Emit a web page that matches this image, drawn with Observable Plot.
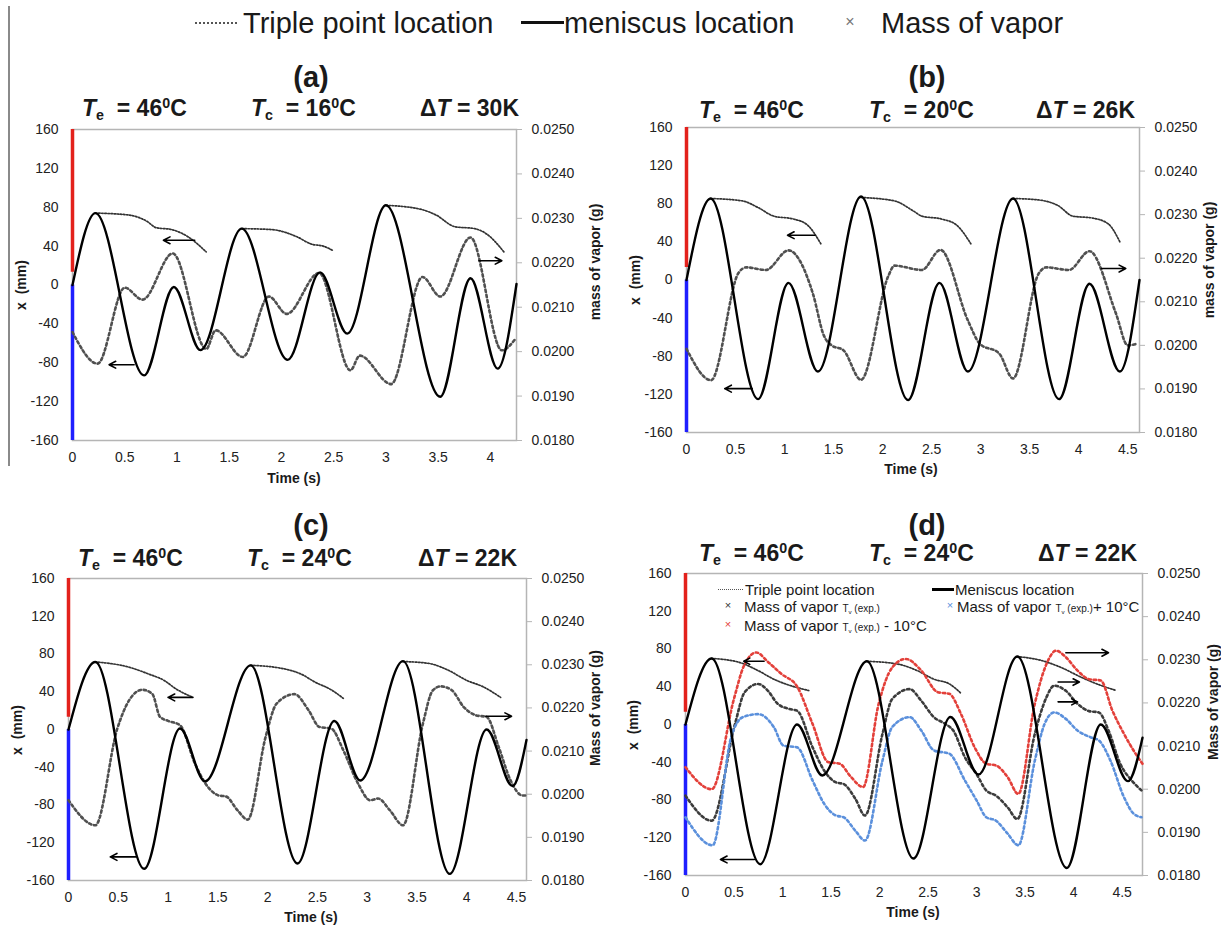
<!DOCTYPE html>
<html><head><meta charset="utf-8">
<script src="https://cdn.jsdelivr.net/npm/d3@7"></script>
<script src="https://cdn.jsdelivr.net/npm/@observablehq/plot@0.6"></script>
<style>
body{margin:0;background:#fff;font-family:"Liberation Sans",Arial,sans-serif;color:#1a1a1a}
#fig{position:relative;width:1221px;height:925px;overflow:hidden;background:#fff}
.abs{position:absolute;white-space:nowrap;line-height:1}
.ttl{font-weight:bold;font-size:29px;transform:translate(-50%,-50%)}
.hdr{font-weight:bold;font-size:23px;transform:translateY(-50%)}
.hdr sub,.lg sub{font-size:0.62em;vertical-align:baseline;position:relative;top:0.3em}
.hdr sup{font-size:0.62em;vertical-align:baseline;position:relative;top:-0.55em}
.ax{font-weight:bold;font-size:14px;transform:translate(-50%,-50%)}
.rot{transform:translate(-50%,-50%) rotate(-90deg)}
.big{font-size:29px;transform:translateY(-50%)}
.lg{font-size:15px;transform:translateY(-50%)}
.sm{font-size:10px}
.mk{transform:translate(-50%,-50%)}
svg{position:absolute}
</style></head><body><div id="fig"></div>
<script>
// ---------- data ----------
const yTicks = [-160,-120,-80,-40,0,40,80,120,160];
const massTicks = [0.018,0.019,0.020,0.021,0.022,0.023,0.024,0.025];
const timeTicksA = [0,0.5,1,1.5,2,2.5,3,3.5,4];
const timeTicksB = [0,0.5,1,1.5,2,2.5,3,3.5,4,4.5];
const panelLabels = ["(a)","(b)","(c)","(d)"];
const tempEvap = ["46","46","46","46"];
const tempCond = ["16","20","24","24"];
const deltaT = ["30","26","22","22"];
const massTitles = ["mass of vapor (g)","mass of vapor (g)","Mass of vapor (g)","Mass of vapor (g)"];
const evapBar = {t:0, from:13, to:160};
const condBar = {t:0, from:-160, to:0};

// meniscus location x (mm) : [time s, x mm]
const meniscusA = [[0,0],[0.22,74],[0.685,-93],[0.97,-2],[1.225,-67],[1.62,58],[2.06,-77],[2.37,13],[2.63,-50],[3.0,82],[3.52,-115],[3.81,7],[4.07,-86],[4.25,1]];
const meniscusB = [[0,0],[0.246,85.5],[0.73,-125],[1.04,-3],[1.34,-96],[1.78,87.6],[2.26,-126],[2.58,-3],[2.87,-96],[3.33,85.5],[3.80,-125],[4.11,-4],[4.42,-96],[4.62,0]];
const meniscusC = [[0,0],[0.27,71.6],[0.76,-147.6],[1.12,1],[1.37,-55],[1.83,68],[2.30,-142],[2.67,9],[2.93,-54],[3.36,72.4],[3.83,-153],[4.2,0],[4.46,-60],[4.6,-11]];
const meniscusD = [[0,0],[0.27,70],[0.77,-148],[1.15,0],[1.41,-54],[1.87,67],[2.35,-142],[2.73,8],[3.02,-53],[3.42,72],[3.93,-152],[4.28,0],[4.56,-60],[4.71,-14]];

// triple point location x (mm), segments
const tripleA = [
  [[0.22,74],[0.54,72],[0.72,65],[0.8,59],[0.95,57],[1.1,50],[1.28,34]],
  [[1.62,58],[1.91,57],[2.14,50],[2.29,42],[2.4,40],[2.5,35]],
  [[3.0,82],[3.33,78],[3.48,72],[3.66,60],[3.85,58],[3.97,52],[4.13,34]]];
const tripleB = [
  [[0.246,85.5],[0.57,83],[0.73,76],[0.89,67],[1.09,64],[1.23,58],[1.37,38]],
  [[1.78,86.6],[2.12,83],[2.32,72],[2.4,67],[2.6,64],[2.75,58],[2.9,38]],
  [[3.33,85.5],[3.59,84],[3.79,78],[3.94,67],[4.14,65],[4.3,59],[4.42,40]]];
const tripleC = [
  [[0.27,71.6],[0.61,66],[0.8,59],[0.96,52],[1.08,43],[1.25,34]],
  [[1.83,68],[2.13,65],[2.33,59],[2.48,50],[2.64,42],[2.76,33]],
  [[3.36,72],[3.62,70],[3.81,63],[4.0,52],[4.17,45],[4.34,34]]];
const tripleD = [
  [[0.27,70],[0.55,66],[0.75,57],[0.91,48],[1.03,43],[1.27,36]],
  [[1.87,67],[2.19,64],[2.39,57],[2.56,48],[2.72,43],[2.84,33]],
  [[3.42,72],[3.68,67.5],[3.88,60],[4.08,50],[4.24,43],[4.44,36]]];

// mass of vapor (g) : [time s, mass g]
const massA = [[0,0.02044],[0.24,0.01973],[0.5,0.02144],[0.67,0.02117],[0.96,0.02221],[1.28,0.02006],[1.37,0.02048],[1.63,0.01988],[1.88,0.02124],[2.05,0.02085],[2.36,0.02177],[2.66,0.01958],[2.75,0.01991],[3.05,0.01927],[3.35,0.02168],[3.52,0.02124],[3.81,0.02257],[4.11,0.02003],[4.24,0.02029]];
const massB = [[0,0.01992],[0.25,0.0192],[0.53,0.02166],[0.61,0.02179],[0.81,0.02173],[1.04,0.02218],[1.29,0.02118],[1.40,0.02023],[1.48,0.0200],[1.6,0.01989],[1.78,0.01921],[2.06,0.0216],[2.12,0.02183],[2.4,0.02173],[2.59,0.02219],[2.87,0.02057],[2.99,0.02004],[3.19,0.01981],[3.33,0.01924],[3.59,0.02164],[3.67,0.02179],[3.9,0.02173],[4.11,0.02216],[4.38,0.02073],[4.5,0.0200],[4.6,0.02004]];
const massC = [[0,0.01986],[0.27,0.01928],[0.49,0.02152],[0.61,0.02218],[0.74,0.02242],[0.84,0.02233],[0.92,0.02179],[1.0,0.0217],[1.12,0.0216],[1.27,0.02071],[1.39,0.0202],[1.51,0.01997],[1.58,0.01995],[1.7,0.01962],[1.8,0.01941],[1.98,0.02133],[2.09,0.0221],[2.27,0.02232],[2.41,0.02195],[2.52,0.02156],[2.64,0.02152],[2.76,0.02102],[2.91,0.02024],[3.03,0.01986],[3.11,0.0199],[3.23,0.01962],[3.36,0.01928],[3.56,0.02164],[3.66,0.02241],[3.74,0.0225],[3.85,0.02241],[3.97,0.02202],[4.09,0.02183],[4.2,0.02179],[4.32,0.0211],[4.44,0.02032],[4.56,0.01997],[4.6,0.01997]];
const massDexp = [[0,0.01985],[0.27,0.01927],[0.51,0.02151],[0.61,0.02225],[0.75,0.02244],[0.85,0.02228],[0.95,0.02198],[1.07,0.02186],[1.15,0.02182],[1.31,0.02097],[1.43,0.02043],[1.55,0.02016],[1.63,0.02012],[1.75,0.01978],[1.85,0.01939],[2.03,0.02128],[2.13,0.02209],[2.31,0.02232],[2.43,0.02205],[2.56,0.02167],[2.68,0.02151],[2.76,0.02136],[2.88,0.02074],[3.0,0.02035],[3.1,0.01997],[3.2,0.01985],[3.32,0.01958],[3.42,0.01931],[3.6,0.02128],[3.72,0.02213],[3.8,0.0224],[3.92,0.02228],[4.04,0.02198],[4.16,0.02181],[4.26,0.02178],[4.36,0.02136],[4.48,0.02059],[4.6,0.0202],[4.7,0.01997]];
const massDminus = [[0,0.02051],[0.27,0.0200],[0.5,0.0221],[0.6,0.02285],[0.73,0.02317],[0.85,0.02295],[0.99,0.02267],[1.15,0.02238],[1.31,0.02151],[1.47,0.02063],[1.59,0.02059],[1.7,0.0203],[1.83,0.02005],[1.99,0.02197],[2.13,0.02282],[2.27,0.02302],[2.43,0.02275],[2.6,0.02225],[2.72,0.02221],[2.84,0.02174],[2.98,0.02097],[3.1,0.02059],[3.2,0.02055],[3.32,0.02028],[3.43,0.01989],[3.6,0.02198],[3.72,0.0229],[3.82,0.02321],[3.92,0.02306],[4.04,0.02275],[4.16,0.02255],[4.28,0.02252],[4.4,0.02182],[4.52,0.02128],[4.64,0.02082],[4.71,0.02059]];
const massDplus = [[0,0.01935],[0.28,0.0187],[0.47,0.0212],[0.59,0.02167],[0.75,0.02174],[0.91,0.02144],[1.01,0.02101],[1.15,0.02097],[1.31,0.0202],[1.43,0.01966],[1.55,0.01939],[1.63,0.01935],[1.75,0.01904],[1.85,0.01881],[2.03,0.02066],[2.13,0.02144],[2.31,0.02167],[2.43,0.02136],[2.56,0.0209],[2.72,0.02082],[2.88,0.0202],[3.0,0.01974],[3.1,0.01935],[3.2,0.01927],[3.32,0.01897],[3.43,0.0187],[3.6,0.02066],[3.7,0.02151],[3.8,0.02178],[3.92,0.02163],[4.04,0.02136],[4.18,0.0212],[4.26,0.02113],[4.38,0.02066],[4.52,0.01981],[4.62,0.01943],[4.7,0.01935]];

// annotation arrows: [from time, to time, x mm]
const arrowsA = [[1.17,0.87,46],[0.59,0.35,-82],[3.89,4.11,25]];
const arrowsB = [[1.31,1.03,47],[0.67,0.39,-114],[4.23,4.48,12]];
const arrowsC = [[1.25,1.0,34],[0.68,0.42,-135],[4.19,4.45,14]];
const arrowsD = [[0.81,0.6,67],[0.71,0.36,-143],[3.92,4.36,76],[3.84,4.06,45],[3.84,4.04,24]];

// ---------- drawing ----------
const toLeft = m => -160 + (m - 0.018) / 0.007 * 320;
const toMass = v => 0.018 + (v + 160) / 320 * 0.007;
const segs = tri => tri.flatMap((s, i) => s.map(p => ({t: p[0], v: p[1], s: i})));
const FONT = '"Liberation Sans", Arial, sans-serif';

const panels = [
  {left:0, top:119, width:610, height:380, ml:72, mr:94, mt:10, mb:59, xmax:4.25, xticks:timeTicksA, men:meniscusA, tri:tripleA, mass:[{d:massA,c:"#505050"}], arrows:arrowsA,
   title:[311,77], hdrY:108, hdrX:[82,251,420], xl:[21,285], ml2:[595,262], tl:[294,478]},
  {left:610, top:117, width:611, height:370, ml:76, mr:82, mt:10, mb:55, xmax:4.62, xticks:timeTicksB, men:meniscusB, tri:tripleB, mass:[{d:massB,c:"#505050"}], arrows:arrowsB,
   title:[927,77], hdrY:110, hdrX:[699,869,1036], xl:[635,280], ml2:[1209,260], tl:[911,469]},
  {left:0, top:568, width:610, height:357, ml:68, mr:84, mt:10, mb:45, xmax:4.6, xticks:timeTicksB, men:meniscusC, tri:tripleC, mass:[{d:massC,c:"#505050"}], arrows:arrowsC,
   title:[311,525], hdrY:558, hdrX:[78,247,418], xl:[17,730], ml2:[595,708], tl:[311,917]},
  {left:610, top:563, width:611, height:362, ml:75, mr:79, mt:10, mb:50, xmax:4.71, xticks:timeTicksB, men:meniscusD, tri:tripleD,
   mass:[{d:massDminus,c:"#e3403a"},{d:massDexp,c:"#3c3c3c"},{d:massDplus,c:"#5b90dc"}], arrows:arrowsD,
   title:[927,525], hdrY:553, hdrX:[699,869,1038], xl:[633,725], ml2:[1213,702], tl:[913,912]}
];

const fig = document.getElementById("fig");
function addDiv(cls, x, y, html, extra){
  const d = document.createElement("div");
  d.className = "abs " + cls;
  d.style.left = x + "px"; d.style.top = y + "px";
  d.innerHTML = html;
  if (extra) Object.assign(d.style, extra);
  fig.appendChild(d);
  return d;
}

panels.forEach((p, i) => {
  const svg = Plot.plot({
    width: p.width, height: p.height,
    marginLeft: p.ml, marginRight: p.mr, marginTop: p.mt, marginBottom: p.mb,
    x: {domain: [0, p.xmax]},
    y: {domain: [-160, 160]},
    style: {fontFamily: FONT, fontSize: "14px", color: "#222", background: "transparent", overflow: "visible"},
    marks: [
      Plot.frame({stroke: "#b5b5b5", strokeWidth: 1.5}),
      Plot.ruleX([evapBar], {x: "t", y1: "from", y2: "to", stroke: "#e3211c", strokeWidth: 3.5}),
      Plot.ruleX([condBar], {x: "t", y1: "from", y2: "to", stroke: "#1f1fff", strokeWidth: 3.5}),
      Plot.line(segs(p.tri), {x: "t", y: "v", z: "s", curve: "monotone-x", stroke: "#333", strokeWidth: 1.7, strokeDasharray: "1.5,1.6"}),
      ...p.mass.map(ms => Plot.line(ms.d, {x: d => d[0], y: d => toLeft(d[1]), curve: "monotone-x", stroke: ms.c, strokeWidth: 2.6, strokeDasharray: "2.4,2.8"})),
      Plot.line(p.men, {x: d => d[0], y: d => d[1], curve: "monotone-x", stroke: "#000", strokeWidth: 2.4}),
      Plot.arrow(p.arrows, {x1: d => d[0], x2: d => d[1], y1: d => d[2], y2: d => d[2], stroke: "#000", strokeWidth: 1.6, headLength: 7, headAngle: 55}),
      Plot.axisY(yTicks, {anchor: "left", tickSize: 0, tickPadding: 14, label: null, fill: "#222", tickFormat: d => String(d)}),
      Plot.axisY(massTicks.map(toLeft), {anchor: "right", tickSize: 5, tickPadding: 10, stroke: "#b5b5b5", fill: "#222", label: null, tickFormat: v => toMass(v).toFixed(4)}),
      Plot.axisX(p.xticks, {anchor: "bottom", tickSize: 0, tickPadding: 12, label: null, fill: "#222", tickFormat: d => String(d)})
    ]
  });
  svg.style.left = p.left + "px";
  svg.style.top = p.top + "px";
  fig.appendChild(svg);

  addDiv("ttl", p.title[0], p.title[1], panelLabels[i]);
  addDiv("hdr", p.hdrX[0], p.hdrY, `<i>T</i><sub>e</sub>&nbsp; = ${tempEvap[i]}<sup>0</sup>C`);
  addDiv("hdr", p.hdrX[1], p.hdrY, `<i>T</i><sub>c</sub>&nbsp; = ${tempCond[i]}<sup>0</sup>C`);
  addDiv("hdr", p.hdrX[2], p.hdrY, `Δ<i>T</i> = ${deltaT[i]}K`);
  addDiv("ax rot", p.xl[0], p.xl[1], "x&nbsp; (mm)");
  addDiv("ax rot", p.ml2[0], p.ml2[1], massTitles[i]);
  addDiv("ax", p.tl[0], p.tl[1], "Time (s)");
});

// top legend
addDiv("", 8, 6, "", {width: "0px", height: "460px", borderLeft: "2px solid #8a8a8a"});
addDiv("", 195, 22, "", {width: "42px", height: "0px", borderTop: "2px dotted #555"});
addDiv("big", 243, 23, "Triple point location");
addDiv("", 521, 21, "", {width: "43px", height: "3px", background: "#111"});
addDiv("big", 564, 23, "meniscus location");
addDiv("mk", 850, 22, "×", {fontSize: "16px", color: "#777"});
addDiv("big", 881, 23, "Mass of vapor");

// legend inside (d)
const TV = `<span class="sm"><i style="font-style:normal">T</i><sub>v</sub> (exp.)</span>`;
addDiv("", 718, 589, "", {width: "25px", height: "0px", borderTop: "1.5px dotted #555"});
addDiv("lg", 745, 589, "Triple point location");
addDiv("", 932, 588, "", {width: "22px", height: "2.5px", background: "#000"});
addDiv("lg", 955, 589, "Meniscus location");
addDiv("mk", 728, 605, "×", {fontSize: "11px", color: "#333"});
addDiv("lg", 744, 606, `Mass of vapor ${TV}`);
addDiv("mk", 950, 605, "×", {fontSize: "11px", color: "#5b90dc"});
addDiv("lg", 957, 606, `Mass of vapor ${TV}+ 10°C`);
addDiv("mk", 728, 624, "×", {fontSize: "11px", color: "#e3403a"});
addDiv("lg", 744, 625, `Mass of vapor ${TV} - 10°C`);
</script></body></html>
